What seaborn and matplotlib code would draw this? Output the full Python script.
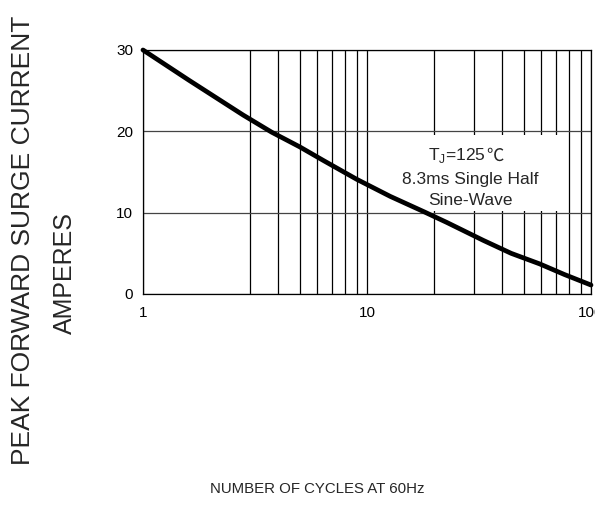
import numpy as np
import pandas as pd
import matplotlib
matplotlib.use("Agg")
import matplotlib.pyplot as plt
from matplotlib.patches import Rectangle
from matplotlib.ticker import FixedLocator, NullFormatter
import seaborn as sns

# curve
cycles = [1, 1.6, 2.8, 3.75, 5, 6.4, 9, 12.7, 18, 22.7, 33, 44, 59, 76, 100]
surge_amps = [30, 26.3, 22.0, 19.9, 18.1, 16.4, 14.1, 12.0, 10.1, 8.8, 6.6, 5.0, 3.7, 2.4, 1.1]

x_ticks = [1, 10, 100]
x_ticklabels = ["1", "10", "100"]
y_ticks = [0, 10, 20, 30]
y_ticklabels = ["0", "10", "20", "30"]

df = pd.DataFrame({"cycles": cycles, "amps": surge_amps})

sns.set_style("white")
plt.rcParams["font.family"] = ["Liberation Sans", "DejaVu Sans"]
plt.rcParams["mathtext.fontset"] = "custom"
plt.rcParams["mathtext.rm"] = "Liberation Sans"

fig = plt.figure(figsize=(5.95, 5.30), dpi=100)
ax = fig.add_axes([0.2403, 0.4453, 0.753, 0.4604])

sns.lineplot(data=df, x="cycles", y="amps", ax=ax, color="black", linewidth=3.4,
             zorder=5, clip_on=False)

ax.set_xscale("log")
ax.set_xlim(1, 100)
ax.set_ylim(0, 30)

# the original sheet has no grid line at 2 in the first decade
minor = list(range(3, 10)) + [m * 10 for m in range(2, 10)]
ax.xaxis.set_major_locator(FixedLocator(x_ticks))
ax.xaxis.set_minor_locator(FixedLocator(minor))
ax.xaxis.set_minor_formatter(NullFormatter())
ax.set_xticks(x_ticks, x_ticklabels)
ax.set_yticks(y_ticks, y_ticklabels)
ax.tick_params(axis="both", which="both", length=0, labelsize=11, colors="black")
ax.tick_params(axis="x", pad=9)
ax.tick_params(axis="y", pad=7)

ax.grid(True, axis="x", which="both", color="black", linewidth=0.9, zorder=1)
ax.grid(True, axis="y", which="major", color="#444444", linewidth=0.9, zorder=1)
ax.set_axisbelow(True)
for s in ax.spines.values():
    s.set_color("black")
    s.set_linewidth(0.9)

ax.set_xlabel("")
ax.set_ylabel("")

# white box behind the note
ax.add_patch(Rectangle((10.5, 10.2), 63.5, 9.4, facecolor="white", edgecolor="none", zorder=2))
tj = ax.text(0.7656, 0.568, r"T$_{\mathregular{J}}$=125", transform=ax.transAxes,
             ha="right", va="center", fontsize=12.5, zorder=3)
ax.annotate("℃", xy=(1, 0.5), xycoords=tj, ha="left", va="center", fontsize=12.5,
            family=["Noto Sans CJK SC", "DejaVu Sans"], zorder=3)
ax.text(0.73, 0.471, "8.3ms Single Half", transform=ax.transAxes,
        ha="center", va="center", fontsize=12.5, zorder=3)
ax.text(0.73, 0.385, "Sine-Wave", transform=ax.transAxes,
        ha="center", va="center", fontsize=12.5, zorder=3)

fig.text(23 / 595, 1 - 240 / 530, "PEAK FORWARD SURGE CURRENT", rotation=90,
         ha="center", va="center", fontsize=19)
fig.text(65 / 595, 1 - 273 / 530, "AMPERES", rotation=90,
         ha="center", va="center", fontsize=18)
fig.text(317 / 595, 1 - 489 / 530, "NUMBER OF CYCLES AT 60Hz",
         ha="center", va="center", fontsize=10.8)

fig.savefig("out.png", dpi=100)
